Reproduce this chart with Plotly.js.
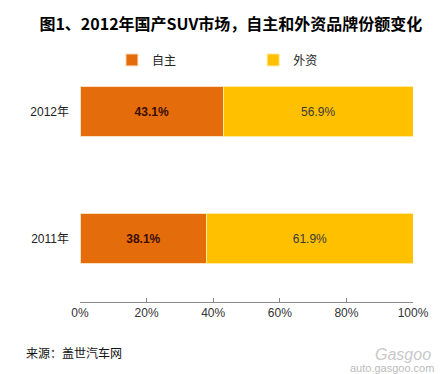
<!DOCTYPE html>
<html>
<head>
<meta charset="utf-8">
<script src="https://cdn.plot.ly/plotly-3.0.1.min.js"></script>
<style>html,body{margin:0;padding:0;background:#fff;}#chart{width:444px;height:374px;}</style>
</head>
<body>
<div id="chart"></div>
<script>
var categories = ["2011年", "2012年"];
var seriesNames = ["自主", "外资"];
var domesticShare = [38.1, 43.1];
var foreignShare = [61.9, 56.9];
var tickValues = [0, 20, 40, 60, 80, 100];
var tickLabels = ["0%", "20%", "40%", "60%", "80%", "100%"];

var FONT = "Liberation Sans, Arial, Noto Sans CJK SC, sans-serif";
var CJK = "Noto Sans CJK SC, sans-serif";

var traces = [
  {
    type: "bar", orientation: "h", name: seriesNames[0], legend: "legend",
    y: categories, x: domesticShare,
    marker: {color: "#E46C0A", line: {color: "#F8E0C0", width: 1}},
    text: domesticShare.map(function(v){return v.toFixed(1) + "%";}),
    textposition: "inside", insidetextanchor: "middle",
    textfont: {family: FONT, size: 12, color: "#3a0e00", weight: "bold"},
    hoverinfo: "skip"
  },
  {
    type: "bar", orientation: "h", name: seriesNames[1], legend: "legend2",
    y: categories, x: foreignShare,
    marker: {color: "#FFC000", line: {color: "#FFE9A0", width: 1}},
    text: foreignShare.map(function(v){return v.toFixed(1) + "%";}),
    textposition: "inside", insidetextanchor: "middle",
    textfont: {family: FONT, size: 12, color: "#3a3a3a"},
    hoverinfo: "skip"
  }
];

var legendStyle = function(xpos) {
  return {
    orientation: "h", x: xpos, xanchor: "left", y: 0.953, yanchor: "middle",
    font: {family: CJK, size: 12, color: "#222"},
    itemwidth: 30, bgcolor: "rgba(0,0,0,0)"
  };
};

var layout = {
  width: 444, height: 374,
  paper_bgcolor: "#ffffff", plot_bgcolor: "#ffffff",
  margin: {l: 80, r: 31, t: 48, b: 72},
  barmode: "stack", bargap: 0.6,
  font: {family: FONT, size: 12, color: "#333"},
  showlegend: true,
  title: {
    text: "图1、2012年国产SUV市场，自主和外资品牌份额变化",
    font: {family: CJK, size: 16, color: "#000", weight: "bold"},
    x: 0.52, xanchor: "center", y: 0.935, yanchor: "middle"
  },
  legend: legendStyle(0.096),
  legend2: legendStyle(0.52),
  xaxis: {
    range: [0, 100], tickvals: tickValues, ticktext: tickLabels,
    showgrid: false, zeroline: false,
    showline: true, linecolor: "#888", linewidth: 1,
    ticks: "inside", ticklen: 4, tickcolor: "#888",
    tickfont: {family: FONT, size: 12, color: "#333"},
    fixedrange: true
  },
  yaxis: {
    categoryorder: "array", categoryarray: categories,
    showgrid: false, zeroline: false, showline: false, ticks: "",
    ticksuffix: "   ",
    tickfont: {family: FONT, size: 12, color: "#222"},
    fixedrange: true
  },
  annotations: [
    {text: "来源：盖世汽车网", xref: "paper", yref: "paper", x: -0.168, y: -0.2,
     xanchor: "left", yanchor: "middle", showarrow: false,
     font: {family: CJK, size: 12, color: "#111"}},
    {text: "<i>Gasgoo</i>", xref: "paper", yref: "paper", x: 1.06, y: -0.205,
     xanchor: "right", yanchor: "middle", showarrow: false,
     font: {family: FONT, size: 16, color: "#c8c8c8"}},
    {text: "auto.gasgoo.com", xref: "paper", yref: "paper", x: 1.07, y: -0.26,
     xanchor: "right", yanchor: "middle", showarrow: false,
     font: {family: FONT, size: 11, color: "#bbbbbb"}}
  ]
};

Plotly.newPlot("chart", traces, layout, {displayModeBar: false, staticPlot: true});
</script>
</body>
</html>
